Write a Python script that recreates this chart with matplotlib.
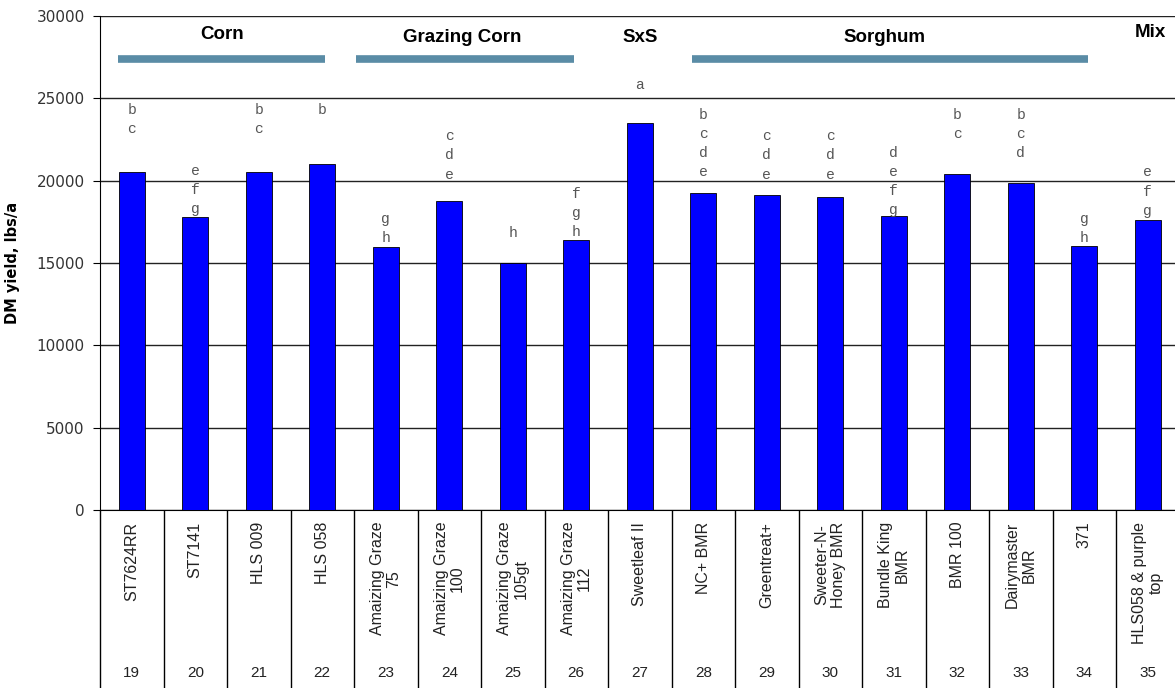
import matplotlib.pyplot as plt

# Hybrid entries and DM yield
varieties = ["ST7624RR", "ST7141", "HLS 009", "HLS 058", "Amaizing Graze\n75",
             "Amaizing Graze\n100", "Amaizing Graze\n105gt", "Amaizing Graze\n112",
             "Sweetleaf II", "NC+ BMR", "Greentreat+", "Sweeter-N-\nHoney BMR",
             "Bundle King\nBMR", "BMR 100", "Dairymaster\nBMR", "371",
             "HLS058 & purple\ntop"]
entry_nums = list(range(19, 36))
dm_yield = [20500, 17800, 20500, 21000, 16000, 18750, 15000, 16400, 23500,
            19250, 19100, 19000, 17850, 20400, 19850, 16050, 17600]
sig_letters = ["bc", "efg", "bc", "b", "gh", "cde", "h", "fgh", "a",
               "bcde", "cde", "cde", "defg", "bc", "bcd", "gh", "efg"]
letter_y = [24300, 20600, 24300, 24300, 17700, 22700, 16800, 19200, 25800,
            24000, 22700, 22700, 21700, 24000, 24000, 17700, 20500]

# crop groups: name, label x, label y, bar start, bar end
groups = ["Corn", "Grazing Corn", "SxS", "Sorghum", "Mix"]
group_x = [1.42, 5.2, 8.0, 11.85, 16.04]
group_y = [28900, 28700, 28700, 28700, 29000]
group_bars = [(-0.22, 3.04), (3.53, 6.96), None, (8.82, 15.06), None]

fig = plt.figure(figsize=(11.75, 6.88), dpi=100)
ax = fig.add_axes([100 / 1175, 178 / 688, 17 * 63.5 / 1175, 494 / 688])

x = list(range(len(dm_yield)))
ax.bar(x, dm_yield, width=0.41, color="#0000ff", edgecolor="black", linewidth=0.6, zorder=3)

ax.set_xlim(-0.5, len(x) - 0.5)
ax.set_ylim(0, 30000)
ax.set_yticks(range(0, 30001, 5000))
ax.set_xticks([])
ax.yaxis.grid(True, color="#222222", linewidth=1.0, zorder=1)
ax.tick_params(axis="y", length=5, width=0.8, pad=6, labelsize=11, labelcolor="#333333")
ax.spines["right"].set_visible(False)
ax.spines["top"].set_visible(False)
ax.set_ylabel("DM yield, lbs/a", fontsize=10.5, fontweight="bold", labelpad=12)

# significance letters stacked above bars
for i, (letters, y0) in enumerate(zip(sig_letters, letter_y)):
    for k, ch in enumerate(letters):
        ax.annotate(ch, (i, y0), xytext=(0, -k * 13.8), textcoords="offset points",
                    ha="center", va="center", family="Liberation Mono",
                    fontsize=10.5, color="#555555", zorder=4)

# group headings with teal bars
for name, gx, gy, span in zip(groups, group_x, group_y, group_bars):
    ax.text(gx, gy, name, ha="center", va="center", fontsize=13.5,
            fontweight="bold", family="Liberation Sans", color="black")
    if span:
        ax.hlines(27400, span[0], span[1], color="#5a8ca6", linewidth=5.5, zorder=2)

# table under the axis
trans = ax.get_xaxis_transform()
ax.vlines([i - 0.5 for i in range(len(x) + 1)], -0.37, 0, transform=trans,
          color="black", linewidth=1.0, clip_on=False)
for i, (name, num) in enumerate(zip(varieties, entry_nums)):
    ax.text(i, -0.024, name, transform=trans, rotation=90, ha="center", va="top",
            multialignment="center", fontsize=11.5, color="#222222", linespacing=1.1,
            family="Liberation Sans")
    ax.text(i, -0.33, str(num), transform=trans, ha="center", va="center",
            fontsize=11, color="#222222", family="Liberation Sans")

fig.savefig("out.png", dpi=100)
